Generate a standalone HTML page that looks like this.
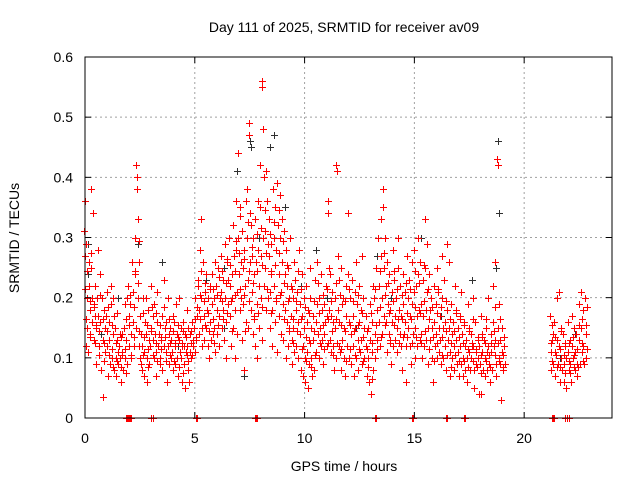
<!DOCTYPE html>
<html><head><meta charset="utf-8"><style>
body{margin:0;background:#fff;}
svg{display:block;font-family:"Liberation Sans",sans-serif;}
</style></head><body>
<svg id="chart" width="640" height="480" viewBox="0 0 640 480">
<rect width="640" height="480" fill="#fff"/>
<text x="344" y="32" font-size="14" text-anchor="middle">Day 111 of 2025, SRMTID for receiver av09</text>
<g id="grid"></g>
<g id="black"></g>
<g id="red"></g>
<g id="axes"></g>
<text x="344" y="471" font-size="14" text-anchor="middle">GPS time / hours</text>
<text x="19" y="238" font-size="14" text-anchor="middle" transform="rotate(-90 19 238)">SRMTID / TECUs</text>
</svg>
<script>
const xTicks=[0,5,10,15,20];
const yTicks=[0,0.1,0.2,0.3,0.4,0.5,0.6];
const yTickLabels=["0","0.1","0.2","0.3","0.4","0.5","0.6"];
const redTimes=[0,0.1,0.2,0.3,0.4,0.5,0.6,0.7,0.8,0.9,1.0,1.1,1.2,1.3,1.4,1.5,1.6,1.7,1.8,1.9,2.0,2.1,2.2,2.3,2.4,2.5,2.6,2.7,2.8,2.9,3.0,3.1,3.2,3.3,3.4,3.5,3.6,3.7,3.8,3.9,4.0,4.1,4.2,4.3,4.4,4.5,4.6,4.7,4.8,4.9,5.0,5.1,5.2,5.3,5.4,5.5,5.6,5.7,5.8,5.9,6.0,6.1,6.2,6.3,6.4,6.5,6.6,6.7,6.8,6.9,7.0,7.1,7.2,7.3,7.4,7.5,7.6,7.7,7.8,7.9,8.0,8.1,8.2,8.3,8.4,8.5,8.6,8.7,8.8,8.9,9.0,9.1,9.2,9.3,9.4,9.5,9.6,9.7,9.8,9.9,10.0,10.1,10.2,10.3,10.4,10.5,10.6,10.7,10.8,10.9,11.0,11.1,11.2,11.3,11.4,11.5,11.6,11.7,11.8,11.9,12.0,12.1,12.2,12.3,12.4,12.5,12.6,12.7,12.8,12.9,13.0,13.1,13.2,13.3,13.4,13.5,13.6,13.7,13.8,13.9,14.0,14.1,14.2,14.3,14.4,14.5,14.6,14.7,14.8,14.9,15.0,15.1,15.2,15.3,15.4,15.5,15.6,15.7,15.8,15.9,16.0,16.1,16.2,16.3,16.4,16.5,16.6,16.7,16.8,16.9,17.0,17.1,17.2,17.3,17.4,17.5,17.6,17.7,17.8,17.9,18.0,18.1,18.2,18.3,18.4,18.5,18.6,18.7,18.8,18.9,19.0,19.1,21.2,21.3,21.4,21.5,21.6,21.7,21.8,21.9,22.0,22.1,22.2,22.3,22.4,22.5,22.6,22.7,22.8];
const redValues=[[0.31,0.27,0.36,0.12],[0.29,0.2,0.15,0.11],[0.26,0.22,0.18,0.14],[0.38,0.25,0.16,0.2],[0.34,0.19,0.13,0.17],[0.22,0.15,0.09,0.2],[0.28,0.17,0.12],[0.24,0.16,0.08],[0.2,0.13,0.035],[0.18,0.11,0.15],[0.17,0.12,0.21,0.07],[0.16,0.13,0.09],[0.19,0.22,0.1],[0.2,0.14,0.08,0.17],[0.15,0.1,0.07],[0.13,0.11,0.09],[0.12,0.1,0.14,0.06],[0.11,0.14,0.08],[0.15,0.1,0.19],[0.13,0.2,0.09],[0.22,0.17,0.12],[0.19,0.14,0.1,0.26],[0.16,0.21,0.12],[0.24,0.3,0.15,0.42],[0.4,0.38,0.33,0.2,0.12],[0.26,0.17,0.1,0.09],[0.14,0.08,0.12,0.2],[0.11,0.07,0.16],[0.14,0.2,0.1,0.06],[0.18,0.13,0.09],[0.12,0.15,0.22],[0.17,0.13,0.1],[0.19,0.14,0.11,0.07],[0.21,0.16,0.12],[0.14,0.1,0.09],[0.13,0.17,0.08],[0.23,0.12,0.15],[0.16,0.11,0.06],[0.12,0.2,0.14,0.09],[0.15,0.1,0.13],[0.11,0.17,0.08],[0.16,0.12,0.09,0.19],[0.14,0.1,0.07],[0.13,0.2,0.11],[0.1,0.15,0.06,0.12],[0.16,0.12,0.09,0.05],[0.14,0.11,0.18],[0.12,0.15,0.08,0.06],[0.14,0.11,0.1],[0.16,0.13,0.12],[0.15,0.2,0.11],[0.13,0.17,0.22],[0.23,0.18,0.14,0.28],[0.33,0.2,0.15,0.12],[0.26,0.17,0.13],[0.21,0.15,0.24],[0.18,0.12,0.2,0.1],[0.16,0.22,0.13],[0.24,0.19,0.14],[0.2,0.15,0.11,0.26],[0.22,0.18,0.14],[0.25,0.17,0.12,0.2],[0.27,0.21,0.15],[0.23,0.18,0.13],[0.29,0.2,0.16,0.1],[0.26,0.19,0.23],[0.3,0.22,0.17,0.12],[0.24,0.2,0.15],[0.32,0.27,0.18,0.1],[0.36,0.28,0.21,0.14],[0.44,0.3,0.24,0.18],[0.35,0.26,0.2,0.13],[0.31,0.25,0.19,0.08],[0.28,0.22,0.16,0.36],[0.38,0.3,0.23,0.15],[0.49,0.47,0.34,0.26,0.18],[0.32,0.27,0.21,0.14],[0.3,0.24,0.17,0.12],[0.33,0.26,0.19,0.1],[0.36,0.28,0.22,0.15],[0.42,0.35,0.27,0.2,0.13],[0.56,0.55,0.48,0.3,0.22],[0.4,0.31,0.25,0.18],[0.41,0.36,0.29,0.2],[0.33,0.27,0.21,0.15],[0.29,0.24,0.18,0.12],[0.38,0.3,0.22,0.16],[0.35,0.28,0.2,0.11],[0.39,0.32,0.24,0.17],[0.37,0.3,0.21,0.14],[0.33,0.26,0.19,0.13],[0.31,0.24,0.18,0.1],[0.28,0.22,0.16,0.12],[0.25,0.2,0.15,0.3],[0.22,0.17,0.13,0.09],[0.2,0.15,0.11,0.26],[0.23,0.18,0.12],[0.21,0.16,0.1,0.28],[0.19,0.14,0.08],[0.24,0.17,0.12,0.07],[0.2,0.15,0.1,0.06],[0.22,0.16,0.11,0.05],[0.18,0.13,0.09,0.25],[0.2,0.15,0.1,0.07],[0.17,0.13,0.08],[0.23,0.16,0.11],[0.26,0.19,0.14,0.1],[0.2,0.15,0.12],[0.24,0.18,0.13,0.09],[0.19,0.14,0.16],[0.22,0.17,0.12],[0.36,0.34,0.25,0.18,0.13],[0.24,0.17,0.11],[0.21,0.16,0.12,0.08],[0.2,0.15,0.1],[0.42,0.41,0.27,0.18,0.12],[0.23,0.16,0.11,0.08],[0.25,0.19,0.13],[0.2,0.15,0.1,0.07],[0.22,0.17,0.12],[0.34,0.24,0.16,0.1],[0.2,0.14,0.09],[0.23,0.17,0.12,0.07],[0.21,0.15,0.1],[0.26,0.19,0.13,0.08],[0.22,0.16,0.11],[0.18,0.13,0.09,0.27],[0.2,0.15,0.1],[0.17,0.12,0.07],[0.15,0.1,0.06],[0.19,0.13,0.04],[0.16,0.11,0.08,0.22],[0.2,0.14,0.1],[0.25,0.18,0.13,0.3],[0.22,0.16,0.12],[0.33,0.27,0.2,0.14],[0.38,0.35,0.25,0.17],[0.3,0.22,0.16,0.11],[0.26,0.19,0.14],[0.24,0.18,0.13,0.09],[0.21,0.16,0.12,0.28],[0.23,0.17,0.13],[0.2,0.15,0.11,0.3],[0.25,0.18,0.14],[0.22,0.17,0.12,0.08],[0.24,0.19,0.14],[0.21,0.16,0.12,0.06],[0.27,0.2,0.15],[0.23,0.17,0.12,0.09],[0.26,0.19,0.14],[0.28,0.21,0.15,0.1],[0.22,0.17,0.12],[0.3,0.24,0.18,0.13],[0.26,0.19,0.14,0.1],[0.23,0.17,0.12],[0.33,0.25,0.18,0.13],[0.29,0.21,0.15,0.09],[0.24,0.18,0.13],[0.2,0.15,0.1,0.06],[0.22,0.16,0.12],[0.19,0.14,0.1,0.25],[0.21,0.15,0.11],[0.17,0.13,0.09,0.27],[0.2,0.15,0.1],[0.23,0.16,0.12,0.08],[0.29,0.18,0.13],[0.26,0.15,0.11,0.07],[0.19,0.14,0.1],[0.16,0.12,0.08,0.22],[0.18,0.13,0.09],[0.15,0.11,0.07],[0.17,0.12,0.09,0.21],[0.14,0.1,0.07],[0.16,0.12,0.08],[0.13,0.1,0.06,0.19],[0.15,0.11,0.08],[0.14,0.1,0.12],[0.2,0.12,0.08,0.05],[0.16,0.11,0.09],[0.13,0.1,0.04],[0.12,0.09,0.04,0.17],[0.14,0.11,0.08],[0.13,0.1,0.07],[0.15,0.11,0.08,0.2],[0.12,0.09,0.06],[0.14,0.11,0.08],[0.22,0.16,0.12],[0.26,0.13,0.09,0.07],[0.43,0.42,0.15,0.1],[0.19,0.13,0.09,0.03],[0.15,0.11,0.08],[0.12,0.09],[0.17,0.11,0.08],[0.13,0.09,0.14],[0.16,0.11,0.07],[0.2,0.13,0.09],[0.21,0.12,0.06],[0.15,0.1,0.08],[0.14,0.09,0.06],[0.12,0.1,0.05],[0.16,0.11,0.08],[0.13,0.09,0.06],[0.17,0.12,0.1],[0.15,0.11,0.08],[0.14,0.09,0.07],[0.19,0.13,0.09],[0.21,0.15,0.11],[0.18,0.12,0.09],[0.2,0.14,0.1]];
const redExtraTimes=[0.05,0.25,0.45,0.65,0.85,1.05,1.25,1.45,1.65,1.85,2.05,2.25,2.45,2.65,2.85,3.05,3.25,3.45,3.65,3.85,4.05,4.25,4.45,4.65,4.85,5.05,5.25,5.45,5.65,5.85,6.05,6.25,6.45,6.65,6.85,7.05,7.25,7.45,7.65,7.85,8.05,8.25,8.45,8.65,8.85,9.05,9.25,9.45,9.65,9.85,10.05,10.25,10.45,10.65,10.85,11.05,11.25,11.45,11.65,11.85,12.05,12.25,12.45,12.65,12.85,13.05,13.25,13.45,13.65,13.85,14.05,14.25,14.45,14.65,14.85,15.05,15.25,15.45,15.65,15.85,16.05,16.25,16.45,16.65,16.85,17.05,17.25,17.45,17.65,17.85,18.05,18.25,18.45,18.65,18.85,19.05,21.25,21.45,21.65,21.85,22.05,22.25,22.45,22.65,22.85];
const redExtraValues=[[0.215,0.165,0.245],[0.195,0.135,0.275],[0.185,0.125,0.155],[0.145,0.105,0.205],[0.165,0.095,0.125],[0.145,0.185,0.105],[0.155,0.115,0.085],[0.125,0.095,0.175],[0.135,0.085,0.105],[0.115,0.165,0.075],[0.155,0.205,0.105],[0.185,0.135,0.245],[0.225,0.145,0.295],[0.175,0.105,0.135],[0.155,0.115,0.085],[0.145,0.185,0.105],[0.175,0.125,0.095],[0.155,0.115,0.135],[0.185,0.135,0.095],[0.165,0.125,0.105],[0.145,0.095,0.125],[0.135,0.155,0.085],[0.125,0.145,0.075],[0.135,0.105,0.095],[0.125,0.145,0.105],[0.165,0.135,0.185],[0.205,0.165,0.245],[0.195,0.155,0.225],[0.175,0.145,0.215],[0.215,0.165,0.125],[0.205,0.155,0.235],[0.245,0.195,0.165],[0.225,0.175,0.265],[0.255,0.195,0.145],[0.245,0.205,0.295],[0.275,0.215,0.335],[0.265,0.205,0.145],[0.325,0.245,0.195],[0.285,0.225,0.165],[0.305,0.245,0.175],[0.315,0.255,0.185],[0.345,0.275,0.215],[0.305,0.245,0.175],[0.325,0.255,0.195],[0.345,0.275,0.205],[0.295,0.225,0.165],[0.255,0.195,0.145],[0.215,0.165,0.125],[0.195,0.145,0.245],[0.215,0.165,0.115],[0.185,0.135,0.095],[0.175,0.125,0.085],[0.195,0.145,0.105],[0.225,0.175,0.125],[0.205,0.155,0.115],[0.215,0.165,0.125],[0.195,0.145,0.105],[0.225,0.165,0.125],[0.205,0.155,0.115],[0.195,0.145,0.095],[0.215,0.155,0.115],[0.195,0.145,0.105],[0.205,0.155,0.115],[0.175,0.135,0.095],[0.145,0.115,0.085],[0.175,0.125,0.065],[0.215,0.155,0.115],[0.245,0.185,0.135],[0.275,0.205,0.155],[0.225,0.175,0.125],[0.195,0.155,0.245],[0.215,0.165,0.125],[0.205,0.165,0.135],[0.225,0.175,0.135],[0.215,0.165,0.125],[0.245,0.185,0.135],[0.225,0.175,0.125],[0.255,0.195,0.145],[0.215,0.165,0.115],[0.185,0.135,0.095],[0.175,0.125,0.215],[0.185,0.135,0.105],[0.195,0.145,0.105],[0.165,0.125,0.085],[0.145,0.105,0.175],[0.135,0.095,0.165],[0.125,0.095,0.155],[0.115,0.085,0.145],[0.125,0.095,0.165],[0.115,0.085,0.135],[0.105,0.075,0.135],[0.125,0.095,0.165],[0.105,0.085,0.125],[0.145,0.105,0.185],[0.125,0.095,0.165],[0.105,0.085,0.135],[0.125,0.095,0.155],[0.135,0.105,0.085],[0.115,0.085,0.145],[0.105,0.075,0.125],[0.125,0.095,0.075],[0.135,0.105,0.085],[0.115,0.085,0.155],[0.165,0.125,0.095],[0.155,0.115,0.185]];
const blackTimes=[0.1,0.7,1.5,2.4,3.5,4.2,5.5,6.3,6.9,7.2,7.5,7.9,8.4,8.6,9.1,9.8,10.5,11.0,12.3,13.3,13.9,15.3,16.2,17.6,18.7,18.8,21.6,22.3];
const blackValues=[[0.24,0.29],[0.14],[0.2],[0.29],[0.26],[0.12],[0.23],[0.15,0.25],[0.41],[0.07],[0.46,0.45],[0.3],[0.45],[0.47],[0.35],[0.22],[0.28],[0.2],[0.15],[0.27],[0.2],[0.3],[0.17],[0.23],[0.25],[0.46,0.34],[0.1],[0.14]];
const zeroTimes=[1.85,1.9,1.95,2.0,2.05,2.1,3.02,3.08,5.05,5.1,7.75,7.8,7.85,13.2,13.25,14.9,14.93,16.45,16.5,17.25,17.3,21.25,21.3,21.35,21.85,21.95,22.05];

const L=85,R=612,T=57,B=418,XMAX=24,YMAX=0.6;
function xs(t){return L+(t/XMAX)*(R-L);}
function ys(v){return B-(v/YMAX)*(B-T);}
const NS="http://www.w3.org/2000/svg";
function mk(tag,attrs,parent){const e=document.createElementNS(NS,tag);for(const k in attrs)e.setAttribute(k,attrs[k]);parent.appendChild(e);return e;}
const grid=document.getElementById('grid'),axes=document.getElementById('axes');
yTicks.forEach((v,i)=>{
  const y=ys(v);
  if(v>0&&v<YMAX){const g=mk('line',{x1:L,x2:R,y1:y,y2:y,stroke:'#a0a0a0','stroke-dasharray':'2,3','stroke-width':1},grid);
  
  }
  mk('line',{x1:L,x2:L+6,y1:y,y2:y,stroke:'#000'},axes);
  mk('line',{x1:R,x2:R-6,y1:y,y2:y,stroke:'#000'},axes);
  const t=mk('text',{x:L-12,y:y+5,'font-size':14,'text-anchor':'end'},axes);
  t.textContent=yTickLabels[i];
  
  
});
xTicks.forEach(v=>{
  const x=xs(v);
  if(v>0){const g=mk('line',{x1:x,x2:x,y1:T,y2:B,stroke:'#a0a0a0','stroke-dasharray':'2,3','stroke-width':1},grid);
  
  }
  mk('line',{x1:x,x2:x,y1:B,y2:B-6,stroke:'#000'},axes);
  mk('line',{x1:x,x2:x,y1:T,y2:T+6,stroke:'#000'},axes);
  const t=mk('text',{x:x,y:B+25,'font-size':14,'text-anchor':'middle'},axes);
  t.textContent=String(v);
  
  
});
const frame=mk('rect',{x:L,y:T,width:R-L,height:B-T,fill:'none',stroke:'#000','stroke-width':1},axes);


function plus(g,t,v,color){
  const x=Math.round(xs(t))+0.5,y=Math.round(ys(v))+0.5;
  const p=mk('path',{d:`M${x-3.5} ${y}H${x+3.5}M${x} ${y-3.5}V${y+3.5}`,stroke:color,'stroke-width':1,fill:'none'},g);
  
  
}
const gb=document.getElementById('black'),gr=document.getElementById('red');
blackTimes.forEach((t,i)=>blackValues[i].forEach((v,j)=>plus(gb,t+j*0.03+0.02,v,'#303030')));
redTimes.forEach((t,i)=>{const n=redValues[i].length;redValues[i].forEach((v,j)=>plus(gr,t+(j-(n-1)/2)*0.025,v,'#ff0000'));});
redExtraTimes.forEach((t,i)=>{const n=redExtraValues[i].length;redExtraValues[i].forEach((v,j)=>plus(gr,t+(j-(n-1)/2)*0.03,v,'#ff0000'));});
zeroTimes.forEach(t=>plus(gr,t,0,'#ff0000'));
</script>
</body></html>
